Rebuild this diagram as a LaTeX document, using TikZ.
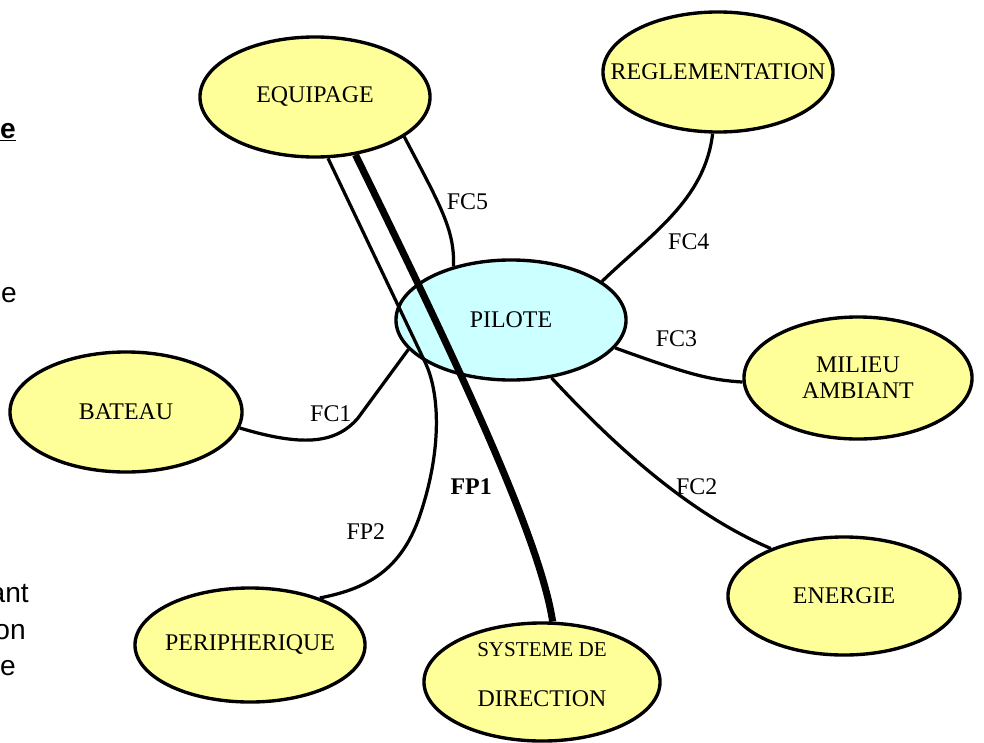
\documentclass[tikz,border=0pt]{standalone}
\usepackage{fontspec}
\setmainfont{Liberation Serif}
\newfontfamily\margefont{Liberation Sans}
\usetikzlibrary{shapes.geometric}
\definecolor{jaune}{HTML}{FFFF99}
\definecolor{ciel}{HTML}{CCFFFF}

\begin{document}
\begin{tikzpicture}[x=0.025cm, y=-0.025cm,
    acteur/.style={ellipse, draw, line width=2.4pt, fill=jaune, minimum width=5.75cm, minimum height=3cm, inner xsep=-1.5cm, inner ysep=-0.3cm, align=center, font=\fontsize{17}{20.4}\selectfont},
    central/.style={acteur, fill=ciel},
    liaison/.style={draw, line width=2.3pt},
    principale/.style={draw, line width=5pt},
    etiquette/.style={font=\fontsize{17}{20.4}\selectfont, inner sep=1pt},
    marge/.style={font=\margefont\fontsize{20}{24}\selectfont, inner sep=0pt, anchor=base east}
]
\useasboundingbox (0,0) rectangle (984,742);
\clip (0,0) rectangle (984,742);

% Define actors
\node[central] (pilote) at (511,320) {PILOTE};
\node[acteur] (equipage) at (315,97) {EQUIPAGE};
\node[acteur] (reglementation) at (718,72) {REGLEMENTATION};
\node[acteur, minimum width=5.7cm, minimum height=3.05cm] (milieu) at (858,378) {MILIEU\\[-2pt]AMBIANT};
\node[acteur, minimum width=5.8cm] (bateau) at (126,412) {BATEAU};
\node[acteur, minimum width=5.8cm, minimum height=2.95cm] (energie) at (844,596) {ENERGIE};
\node[acteur, minimum height=2.85cm] (peripherique) at (250,645) {PERIPHERIQUE};
\node[acteur, minimum width=5.9cm, minimum height=2.95cm, text depth=11pt] (systeme) at (542,682) {{\fontsize{15}{18}\selectfont SYSTEME DE}\\[15.5pt]DIRECTION};

% Text cut at the left margin
\node[marge] (titre) at (16,138) {\bfseries\underline{e}};
\node[marge] (ligne1) at (17,302) {e};
\node[marge] (ligne2) at (29,602) {ant};
\node[marge] (ligne3) at (26,639) {on};
\node[marge] (ligne4) at (16,675) {e};

% Define functions
\path[liaison] (equipage.-24) .. controls (440,205) and (455,230) .. (pilote.137)
    node[etiquette, pos=0.4, anchor=west, xshift=4.5pt] {FC5};
\path[liaison] (reglementation.-95) .. controls (705,200) and (650,235) .. (pilote.23)
    node[etiquette, pos=0.62, anchor=north west, xshift=6pt] {FC4};
\path[liaison] (pilote.-15) .. controls (690,375) and (710,380) .. (milieu.182)
    node[etiquette, pos=0.3, anchor=south, xshift=5pt, yshift=12.5pt] {FC3};
\path[liaison] (pilote.-55) .. controls (600,430) and (680,510) .. (energie.147)
    node[etiquette, pos=0.62, anchor=west, yshift=3pt] {FC2};
\path[liaison] (bateau.-8) .. controls (300,446) and (335,445) .. (358,418)
    node[etiquette, pos=0.6, anchor=south, xshift=5pt, yshift=10pt] {FC1} -- (pilote.-164);
\path[liaison] (equipage.-78) -- (425,362) .. controls (440,393) and (442,450) .. (420,515)
    .. controls (400,575) and (360,590) .. (peripherique.34)
    node[etiquette, pos=0.1, anchor=east, xshift=-18pt] {FP2};
\path[principale] (equipage.-55) .. controls (465,378) and (540,540) .. (systeme.80)
    node[etiquette, font=\fontsize{17}{20.4}\selectfont\bfseries, pos=0.6, anchor=east, xshift=-9pt] {FP1};

\end{tikzpicture}
\end{document}
